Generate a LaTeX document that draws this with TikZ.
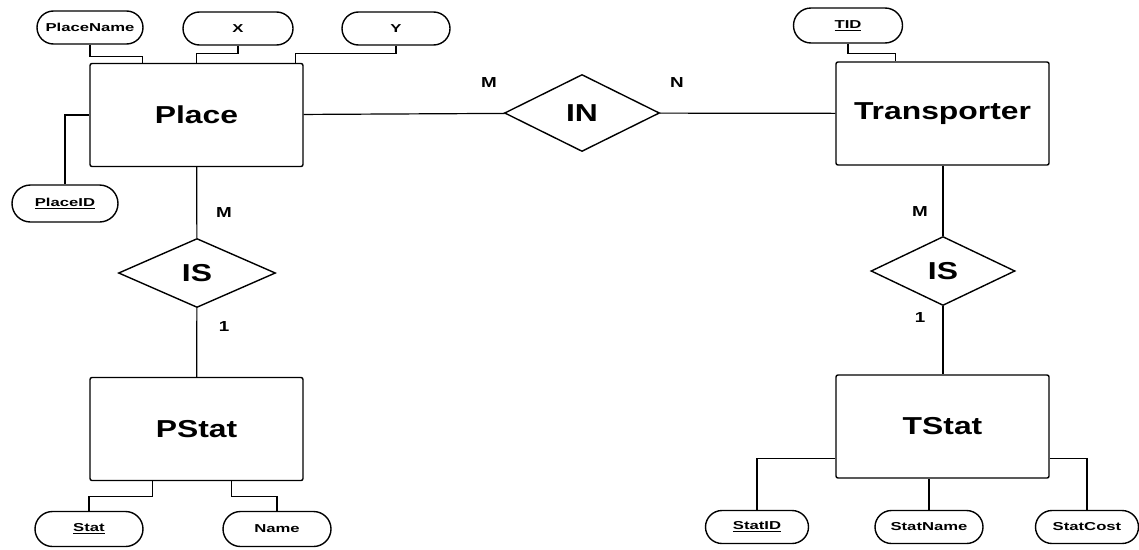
\documentclass[tikz,border=0pt]{standalone}
\usepackage{fontspec}
\setmainfont{Liberation Sans}
\usetikzlibrary{shapes.geometric,shapes.misc}

\newcommand{\entlabel}[1]{\scalebox{1.3}[1]{#1}}
\newcommand{\attlabel}[1]{\scalebox{1.45}[1]{#1}}
\newcommand{\cardlabel}[1]{\scalebox{1.3}[1]{#1}}

\tikzset{
    entity/.style={draw, line width=1.4pt, rounded corners=2pt, minimum width=213pt, minimum height=103pt, inner sep=0pt, font=\fontsize{24.5}{28}\selectfont\bfseries},
    relation/.style={draw, diamond, line width=1.4pt, inner sep=0pt, font=\fontsize{24.5}{28}\selectfont\bfseries},
    attr/.style={draw, rounded rectangle, line width=1.4pt, minimum width=106pt, minimum height=33pt, inner sep=0pt, font=\fontsize{11.5}{13}\selectfont\bfseries},
    card/.style={inner sep=0pt, font=\fontsize{14.5}{16}\selectfont\bfseries},
    link/.style={line width=1.2pt}
}

\begin{document}
\begin{tikzpicture}[x=1pt, y=-1pt]
    \useasboundingbox (0,0) rectangle (1139,549);

    % Entities
    \node[entity] (place) at (196.5,115) {\entlabel{Place}};
    \node[entity] (trans) at (942.5,113.5) {\entlabel{Transporter}};
    \node[entity] (pstat) at (196.5,429) {\entlabel{PStat}};
    \node[entity] (tstat) at (942.5,426.5) {\entlabel{TStat}};

    % Relationships
    \node[relation, minimum width=155pt, minimum height=77pt] (in) at (582,113) {\entlabel{IN}};
    \node[relation, minimum width=157pt, minimum height=69pt] (isl) at (197,273) {\entlabel{IS}};
    \node[relation, minimum width=144pt, minimum height=69pt] (isr) at (943,271) {\entlabel{IS}};

    % Attributes
    \node[attr] (pname) at (90,27.5) {\attlabel{PlaceName}};
    \node[attr, minimum width=110pt] (px) at (238,28.5) {\attlabel{X}};
    \node[attr, minimum width=108pt] (py) at (396,28.5) {\attlabel{Y}};
    \node[attr, minimum height=37pt] (pid) at (65,203.5) {\attlabel{\underline{PlaceID}}};
    \node[attr, minimum width=109pt, minimum height=35pt] (tid) at (848,25.5) {\attlabel{\underline{TID}}};
    \node[attr, minimum width=108pt, minimum height=35pt] (stat) at (89,529) {\attlabel{\underline{Stat}}};
    \node[attr, minimum width=108pt, minimum height=35pt] (name) at (277,529) {\attlabel{Name}};
    \node[attr, minimum width=103pt] (sid) at (757,527) {\attlabel{\underline{StatID}}};
    \node[attr, minimum width=108pt] (sname) at (929,527) {\attlabel{StatName}};
    \node[attr, minimum width=103pt] (scost) at (1087,527) {\attlabel{StatCost}};

    % Relationship lines
    \draw[link] (place) -- (in);
    \draw[link] (in) -- (trans);
    \draw[link] (place) -- (isl);
    \draw[link] (isl) -- (pstat);
    \draw[link] (trans.south -| isr.north) -- (isr);
    \draw[link] (isr) -- (isr.south |- tstat.north);

    % Attribute lines
    \draw[link] (pname.south) -- ++(0,12) -| ([xshift=53pt]place.north west);
    \draw[link] (px.south) -- ++(0,8) -| (place.north);
    \draw[link] (py.south) -- ++(0,8) -| ([xshift=-8pt]place.north east);
    \draw[link] (place.west) -| (pid.north);
    \draw[link] (tid.south) -- ++(0,10) -| ([xshift=60pt]trans.north west);
    \draw[link] ([xshift=63pt]pstat.south west) -- ++(0,15) -| (stat.north);
    \draw[link] ([xshift=142pt]pstat.south west) -- ++(0,15) -| (name.north);
    \draw[link] ([yshift=20pt]tstat.south west) -| (sid.north);
    \draw[link] (sname.north) -- (sname.north |- tstat.south);
    \draw[link] ([yshift=20pt]tstat.south east) -| (scost.north);

    % Cardinalities
    \node[card] (cin1) at (489,83) {\cardlabel{M}};
    \node[card] (cin2) at (677,83) {\cardlabel{N}};
    \node[card] (cisl1) at (224,213) {\cardlabel{M}};
    \node[card] (cisl2) at (224,327) {\cardlabel{1}};
    \node[card] (cisr1) at (920,212) {\cardlabel{M}};
    \node[card] (cisr2) at (920,318) {\cardlabel{1}};
\end{tikzpicture}
\end{document}
